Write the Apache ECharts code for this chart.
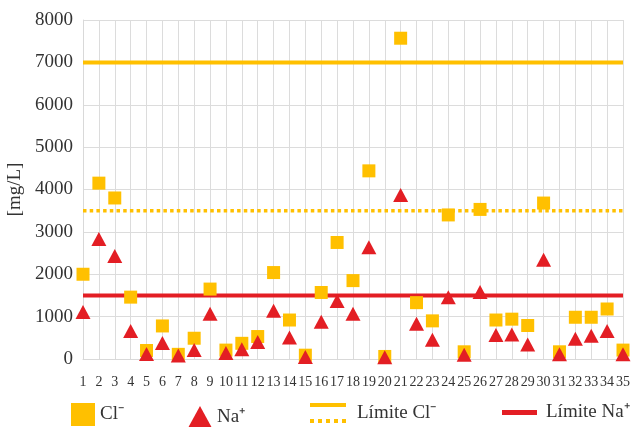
<!DOCTYPE html>
<html>
<head>
<meta charset="utf-8">
<script src="https://cdn.jsdelivr.net/npm/echarts@6/dist/echarts.min.js"></script>
<style>
html,body{margin:0;padding:0;background:#fff;}
#chart{width:633px;height:427px;}
</style>
</head>
<body>
<div id="chart"></div>
<script>
var categories = ['1','2','3','4','5','6','7','8','9','10','11','12','13','14','15','16','17','18','19','20','21','22','23','24','25','26','27','28','29','30','31','32','33','34','35'];
var clValues = [2000, 4150, 3800, 1460, 200, 780, 110, 490, 1650, 210, 370, 530, 2040, 920, 90, 1570, 2750, 1850, 4440, 60, 7570, 1330, 900, 3400, 170, 3530, 920, 940, 790, 3680, 170, 985, 985, 1180, 210];
var naValues = [1110, 2830, 2430, 660, 120, 380, 80, 210, 1070, 140, 230, 400, 1140, 510, 50, 880, 1370, 1070, 2640, 40, 3870, 830, 455, 1460, 100, 1580, 565, 580, 345, 2340, 110, 475, 550, 660, 110];
var limitClHigh = 7000;
var limitClLow = 3500;
var limitNa = 1500;
var yTicks = [0, 1000, 2000, 3000, 4000, 5000, 6000, 7000, 8000];

var YEL = '#FFC000';
var RED = '#E31E24';
var FONT = 'Liberation Serif';
var nameCl = 'Cl\u207B';
var nameNa = 'Na\u207A';
var nameLimCl = 'L\u00EDmite Cl\u207B';
var nameLimNa = 'L\u00EDmite Na\u207A';

function constLine(v) { return categories.map(function () { return v; }); }

var chart = echarts.init(document.getElementById('chart'), null, {renderer: 'canvas'});
function legendText(leftPad) {
  return {fontFamily: FONT, fontSize: 19, color: '#333', padding: [6, 0, 0, leftPad]};
}
chart.setOption({
  backgroundColor: '#fff',
  animation: false,
  grid: {left: 83, right: 10, top: 20, bottom: 68, containLabel: false, outerBoundsMode: 'none'},
  xAxis: {
    type: 'category',
    data: categories,
    boundaryGap: false,
    axisLine: {show: true, lineStyle: {color: '#d9d9d9', width: 1}},
    axisTick: {show: false},
    axisLabel: {interval: 0, margin: 16, fontFamily: FONT, fontSize: 14, color: '#333'},
    splitLine: {show: true, interval: 0, lineStyle: {color: '#dcdcdc', width: 1}}
  },
  yAxis: {
    type: 'value',
    min: yTicks[0],
    max: yTicks[yTicks.length - 1],
    interval: yTicks[1] - yTicks[0],
    name: '[mg/L]',
    nameLocation: 'middle',
    nameRotate: 90,
    nameGap: 50,
    nameTextStyle: {fontFamily: FONT, fontSize: 19, color: '#333'},
    axisLine: {show: true, lineStyle: {color: '#d9d9d9', width: 1}},
    axisTick: {show: false},
    axisLabel: {margin: 10, fontFamily: FONT, fontSize: 19, color: '#333',
      formatter: function (v) { return String(v); }},
    splitLine: {show: true, lineStyle: {color: '#dcdcdc', width: 1}}
  },
  legend: [
    {left: 71, top: 403, padding: 0, itemWidth: 24, itemHeight: 23, textStyle: legendText(0),
     data: [{name: nameCl, icon: 'rect', itemStyle: {color: YEL}}]},
    {left: 188, top: 406, padding: 0, itemWidth: 24, itemHeight: 22, textStyle: legendText(0),
     data: [{name: nameNa, icon: 'triangle', itemStyle: {color: RED}}]},
    {left: 310, top: 403, padding: 0, itemWidth: 36, itemHeight: 20, symbolKeepAspect: false,
     textStyle: legendText(6),
     data: [{name: nameLimCl, icon: 'path://M0,0H36V4H0Z M0,16H4V20H0Z M8,16H12V20H8Z M16,16H20V20H16Z M24,16H28V20H24Z M32,16H36V20H32Z', itemStyle: {color: YEL}}]},
    {left: 502, top: 403, padding: 0, itemWidth: 35, itemHeight: 5, symbolKeepAspect: false,
     textStyle: legendText(4),
     data: [{name: nameLimNa, icon: 'rect', itemStyle: {color: RED}}]}
  ],
  series: [
    {name: nameLimCl, type: 'line', data: constLine(limitClHigh), symbol: 'none', z: 1,
     itemStyle: {color: YEL}, lineStyle: {color: YEL, width: 4}, silent: true},
    {name: nameLimCl, type: 'line', data: constLine(limitClLow), symbol: 'none', z: 1,
     itemStyle: {color: YEL}, lineStyle: {color: YEL, width: 3.5, type: [3.5, 3.2]}, silent: true},
    {name: nameLimNa, type: 'line', data: constLine(limitNa), symbol: 'none', z: 1,
     itemStyle: {color: RED}, lineStyle: {color: RED, width: 4}, silent: true},
    {name: nameCl, type: 'scatter', data: clValues, symbol: 'rect', symbolSize: 13, z: 3,
     itemStyle: {color: YEL, opacity: 1}},
    {name: nameNa, type: 'scatter', data: naValues, symbol: 'triangle', symbolSize: [15, 14], z: 4,
     itemStyle: {color: RED, opacity: 1}}
  ]
});
</script>
</body>
</html>
